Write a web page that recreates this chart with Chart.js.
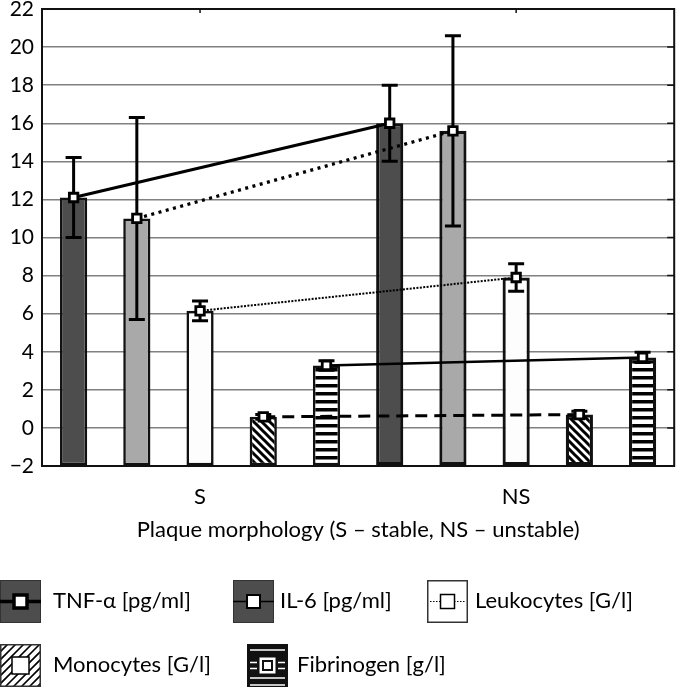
<!DOCTYPE html>
<html><head><meta charset="utf-8">
<script src="https://cdn.jsdelivr.net/npm/chart.js@4/dist/chart.umd.min.js"></script>
<style>html,body{margin:0;padding:0;background:#fff;overflow:hidden}canvas{display:block}</style>
</head><body>
<canvas id="c" width="683" height="692"></canvas>
<script>
// ---- data ----
const categories = ['S', 'NS'];
const axisTitle = 'Plaque morphology (S – stable, NS – unstable)';
const seriesNames = ['TNF-α [pg/ml]', 'IL-6 [pg/ml]', 'Leukocytes [G/l]', 'Monocytes [G/l]', 'Fibrinogen [g/l]'];
const tnfValues = [12.1, 16.0];
const tnfErrors = [2.1, 2.0];
const il6Values = [11.0, 15.6];
const il6Errors = [5.3, 5.0];
const leukoValues = [6.15, 7.9];
const leukoErrors = [0.52, 0.72];
const monoValues = [0.58, 0.7];
const monoErrors = [0.13, 0.18];
const fibValues = [3.28, 3.7];
const fibErrors = [0.25, 0.27];
const yMin = -2, yMax = 22, yStep = 2;

const FONT = 'Lato, "Open Sans", sans-serif';

// ---- patterns ----
function makeDiag() {
  const c = document.createElement('canvas'); c.width = 8; c.height = 8;
  const g = c.getContext('2d');
  g.fillStyle = '#fff'; g.fillRect(0, 0, 8, 8);
  g.strokeStyle = '#000'; g.lineWidth = 3; g.beginPath();
  g.moveTo(-4, -4); g.lineTo(12, 12); g.moveTo(-4, 4); g.lineTo(4, 12); g.moveTo(4, -4); g.lineTo(12, 4);
  g.stroke();
  return g.createPattern(c, 'repeat');
}
function makeStripes() {
  const c = document.createElement('canvas'); c.width = 8; c.height = 8;
  const g = c.getContext('2d');
  g.fillStyle = '#fff'; g.fillRect(0, 0, 8, 8);
  g.fillStyle = '#000'; g.fillRect(0, 0, 8, 3.5);
  return g.createPattern(c, 'repeat');
}
const ctx = document.getElementById('c').getContext('2d');

const barFills = ['#4d4d4d', '#a9a9a9', '#fdfdfd', makeDiag(), makeStripes()];
const barValues = [tnfValues, il6Values, leukoValues, monoValues, fibValues];
const barErrors = [tnfErrors, il6Errors, leukoErrors, monoErrors, fibErrors];
const lineDash = [[], [3, 4.5], [2, 1.4], [12, 7], []];
const lineWidths = [3, 3.2, 2, 3, 2.6];

// one slot per (group, series) on the hidden slot axis
const nS = seriesNames.length;
const slotLabels = [];
categories.forEach(cat => seriesNames.forEach(s => slotLabels.push(cat + ' / ' + s)));

const datasets = [];
barValues.forEach((vals, i) => {
  const data = slotLabels.map(() => null);
  const errs = slotLabels.map(() => null);
  vals.forEach((v, k) => { data[k * nS + i] = v; errs[k * nS + i] = barErrors[i][k]; });
  datasets.push({
    type: 'bar', label: seriesNames[i], data, errors: errs,
    backgroundColor: barFills[i], borderColor: '#111',
    borderWidth: c => (c.dataIndex >= nS ? 3.2 : 2.6), borderSkipped: false,
    base: yMin, order: 2, xAxisID: 'x', yAxisID: 'y', grouped: false,
    barPercentage: 0.43, categoryPercentage: 1
  });
});
barValues.forEach((vals, i) => {
  datasets.push({
    type: 'line', label: seriesNames[i] + ' line',
    data: vals.map((v, k) => ({ x: slotLabels[k * nS + i], y: v })),
    borderColor: '#000', borderWidth: lineWidths[i], borderDash: lineDash[i],
    pointStyle: 'rect', pointRadius: 6, pointBackgroundColor: '#fff', pointBorderColor: '#000', pointBorderWidth: 2.8,
    fill: false, order: 1, xAxisID: 'x', yAxisID: 'y', clip: false
  });
});

const errorBarPlugin = {
  id: 'errbars',
  afterDatasetDraw(chart, args) {
    const ds = chart.data.datasets[args.index];
    if (!ds.errors) return;
    const y = chart.scales.y, c = chart.ctx;
    c.save();
    c.strokeStyle = '#000'; c.lineWidth = 3; c.lineCap = 'butt';
    args.meta.data.forEach((bar, k) => {
      const v = ds.data[k], e = ds.errors[k];
      if (v == null || e == null) return;
      const yt = y.getPixelForValue(v + e), yb = y.getPixelForValue(v - e);
      c.beginPath();
      c.moveTo(bar.x, yt); c.lineTo(bar.x, yb);
      c.moveTo(bar.x - 8, yt); c.lineTo(bar.x + 8, yt);
      c.moveTo(bar.x - 8, yb); c.lineTo(bar.x + 8, yb);
      c.stroke();
    });
    c.restore();
  }
};

const framePlugin = {
  id: 'frame',
  afterDatasetsDraw(chart) {
    const a = chart.chartArea, c = chart.ctx, y = chart.scales.y, x = chart.scales.xc;
    c.save();
    c.strokeStyle = '#111'; c.lineWidth = 2;
    c.strokeRect(a.left, a.top, a.right - a.left, a.bottom - a.top);
    c.lineWidth = 1.5; c.beginPath();
    y.ticks.forEach(t => { const py = y.getPixelForValue(t.value); c.moveTo(a.right - 7, py); c.lineTo(a.right, py); });
    categories.forEach((_, k) => { const px = x.getPixelForValue(k); c.moveTo(px, a.top); c.lineTo(px, a.top + 4); });
    c.stroke();
    c.restore();
  }
};

// legend icons
function drawMarker(c, cx, cy, s, bw) {
  c.fillStyle = '#fff'; c.fillRect(cx - s / 2, cy - s / 2, s, s);
  c.strokeStyle = '#000'; c.lineWidth = bw; c.strokeRect(cx - s / 2, cy - s / 2, s, s);
}
const legendIcons = [
  (c, x, y, w, h) => {
    c.fillStyle = '#4d4d4d'; c.fillRect(x, y, w, h);
    c.strokeStyle = '#333'; c.lineWidth = 1; c.strokeRect(x + 0.5, y + 0.5, w - 1, h - 1);
    c.strokeStyle = '#000'; c.lineWidth = 3.5; c.beginPath(); c.moveTo(x, y + h / 2); c.lineTo(x + w, y + h / 2); c.stroke();
    drawMarker(c, x + w / 2, y + h / 2, 13, 3.5);
  },
  (c, x, y, w, h) => {
    c.fillStyle = '#4d4d4d'; c.fillRect(x, y, w, h);
    c.strokeStyle = '#333'; c.lineWidth = 1; c.strokeRect(x + 0.5, y + 0.5, w - 1, h - 1);
    c.strokeStyle = '#000'; c.lineWidth = 1.5; c.beginPath(); c.moveTo(x, y + h / 2); c.lineTo(x + w, y + h / 2); c.stroke();
    drawMarker(c, x + w / 2, y + h / 2, 13, 2);
  },
  (c, x, y, w, h) => {
    c.fillStyle = '#fff'; c.fillRect(x, y, w, h);
    c.strokeStyle = '#333'; c.lineWidth = 1.5; c.strokeRect(x + 0.75, y + 0.75, w - 1.5, h - 1.5);
    c.strokeStyle = '#000'; c.lineWidth = 1.2; c.setLineDash([1.5, 1.5]); c.beginPath(); c.moveTo(x + 3, y + h / 2); c.lineTo(x + w - 3, y + h / 2); c.stroke(); c.setLineDash([]);
    drawMarker(c, x + w / 2, y + h / 2, 14, 1.5);
  },
  (c, x, y, w, h) => {
    c.save(); c.beginPath(); c.rect(x, y, w, h); c.clip();
    c.fillStyle = '#fff'; c.fillRect(x, y, w, h);
    c.strokeStyle = '#000'; c.lineWidth = 1.6; c.beginPath();
    for (let k = -h; k < w + h; k += 8) { c.moveTo(x + k, y + h); c.lineTo(x + k + h, y); }
    c.stroke(); c.restore();
    c.strokeStyle = '#333'; c.lineWidth = 1.5; c.strokeRect(x + 0.75, y + 0.75, w - 1.5, h - 1.5);
    drawMarker(c, x + w / 2, y + h / 2, 17, 1.5);
  },
  (c, x, y, w, h) => {
    c.fillStyle = '#111'; c.fillRect(x, y, w, h);
    c.strokeStyle = '#fff'; c.lineWidth = 1.5; c.beginPath();
    for (let k = 6; k < h; k += 7) { if (Math.abs(k - h / 2) < 9) continue; c.moveTo(x + 3, y + k); c.lineTo(x + w - 3, y + k); }
    c.moveTo(x + 3, y + h / 2 - 3); c.lineTo(x + 10, y + h / 2 - 3); c.moveTo(x + w - 10, y + h / 2 - 3); c.lineTo(x + w - 3, y + h / 2 - 3);
    c.moveTo(x + 3, y + h / 2 + 3); c.lineTo(x + 10, y + h / 2 + 3); c.moveTo(x + w - 10, y + h / 2 + 3); c.lineTo(x + w - 3, y + h / 2 + 3);
    c.stroke();
    c.fillStyle = '#fff'; c.fillRect(x + w / 2 - 8, y + h / 2 - 8, 16, 16);
    c.fillStyle = '#111'; c.fillRect(x + w / 2 - 5.5, y + h / 2 - 5.5, 11, 11);
    c.fillStyle = '#fff'; c.fillRect(x + w / 2 - 3.5, y + h / 2 - 3.5, 7, 7);
  }
];
const legendLayout = [
  { x: 0, y: 580, tx: 53 }, { x: 233, y: 580, tx: 280 }, { x: 427, y: 580, tx: 475 },
  { x: 0, y: 644, tx: 53 }, { x: 247, y: 644, tx: 297 }
];
const legendPlugin = {
  id: 'customLegend',
  afterDraw(chart) {
    const c = chart.ctx;
    c.save();
    seriesNames.forEach((name, i) => {
      const L = legendLayout[i];
      legendIcons[i](c, L.x, L.y, 41, 43);
      c.fillStyle = '#000'; c.font = '22px ' + FONT; c.textBaseline = 'middle'; c.textAlign = 'left';
      c.fillText(name, L.tx, L.y + 21);
    });
    c.restore();
  }
};

new Chart(ctx, {
  data: { labels: slotLabels, datasets },
  options: {
    responsive: false, animation: false, events: [],
    layout: { padding: { top: 9, right: 1, bottom: 146, left: 0 } },
    plugins: { legend: { display: false }, tooltip: { enabled: false } },
    scales: {
      x: { type: 'category', labels: slotLabels, offset: true, display: false },
      xc: {
        type: 'category', labels: categories, offset: true, position: 'bottom', axis: 'x',
        grid: { display: false, drawTicks: false }, border: { display: false },
        ticks: { color: '#000', font: { family: FONT, size: 22 }, padding: 18 },
        title: { display: true, text: axisTitle, color: '#000', font: { family: FONT, size: 22 }, padding: { top: 0, bottom: 3 } },
        afterFit(s) { s.height = 80; }
      },
      y: {
        type: 'linear', min: yMin, max: yMax,
        ticks: { stepSize: yStep, color: '#000', font: { family: FONT, size: 21 }, padding: 8,
          callback: v => (v < 0 ? '\u2212' + Math.abs(v) : String(v)) },
        grid: { color: '#808080', lineWidth: 1.5, drawTicks: false }, border: { display: false },
        afterFit(s) { s.width = 42; s.paddingTop = 0; s.paddingBottom = 0; }
      }
    }
  },
  plugins: [errorBarPlugin, framePlugin, legendPlugin]
});
</script>
</body></html>
